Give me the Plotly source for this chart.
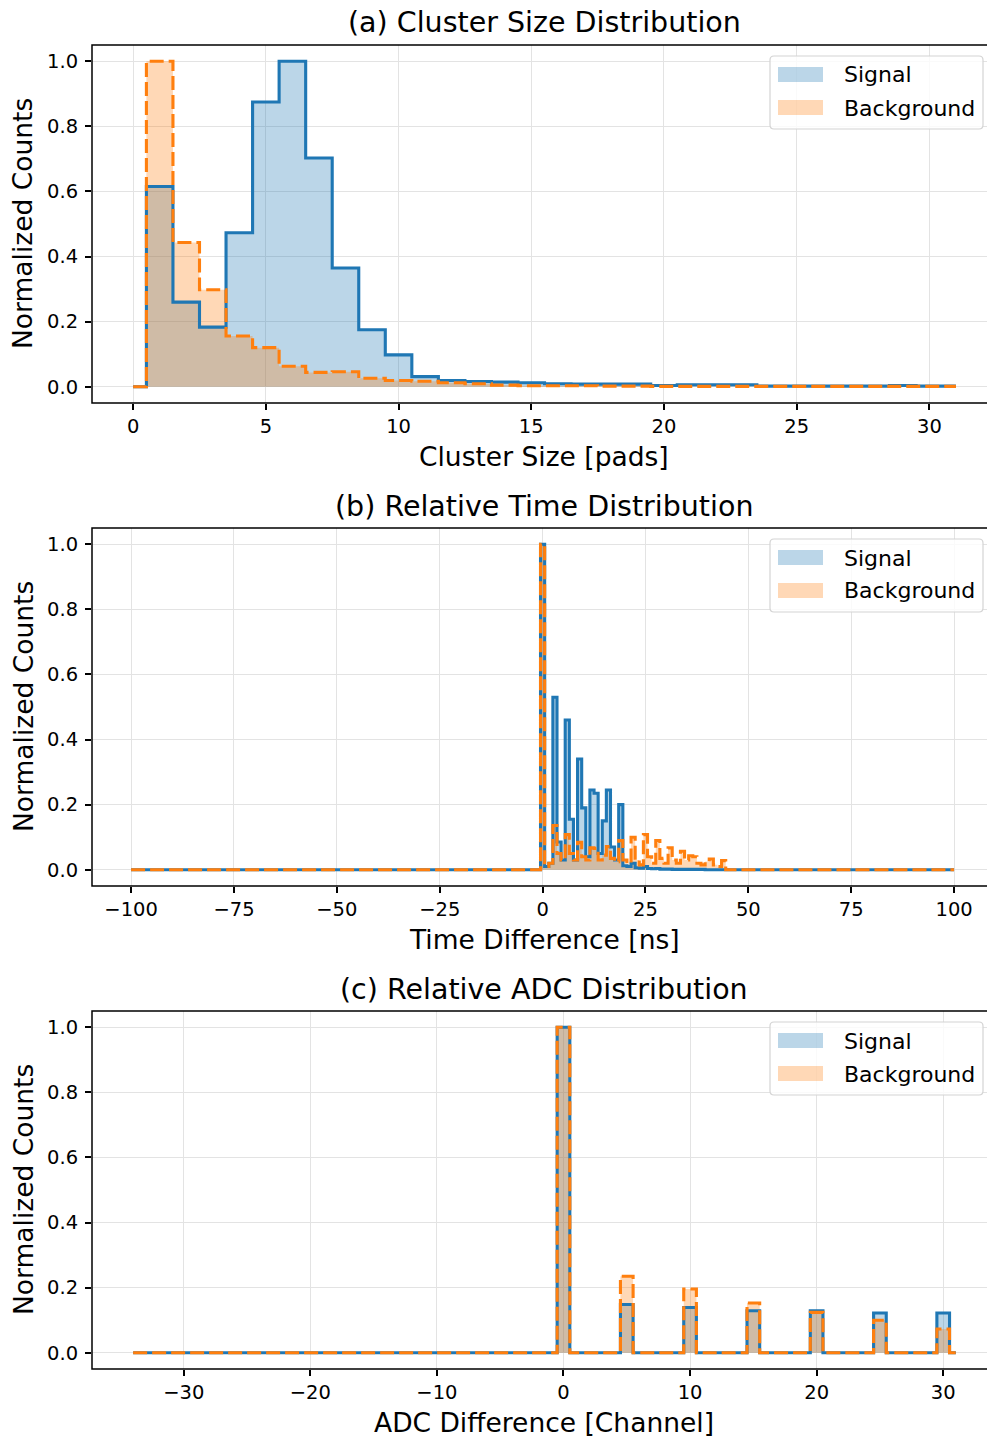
import plotly.graph_objects as go

# ---------------- data ----------------
# (a) cluster size
cluster_size = list(range(0, 32))
signal_cluster = [0.0, 0.615, 0.26, 0.183, 0.473, 0.875, 1.0, 0.703, 0.365, 0.175,
                  0.098, 0.031, 0.019, 0.016, 0.014, 0.012, 0.009, 0.008, 0.008, 0.008,
                  0.004, 0.006, 0.006, 0.006, 0.002, 0.002, 0.002, 0.002, 0.002, 0.004,
                  0.002, 0.002]
background_cluster = [0.0, 1.0, 0.443, 0.298, 0.156, 0.12, 0.063, 0.044, 0.046, 0.026,
                      0.019, 0.017, 0.012, 0.009, 0.005, 0.003, 0.003, 0.003, 0.002, 0.002,
                      0.001, 0.001, 0.001, 0.001, 0.001, 0.001, 0.001, 0.001, 0.001, 0.001,
                      0.001, 0.001]

# (b) relative time: bins -100 .. 100 ns (1 ns), non-zero part starts at 0 ns
time_ns = list(range(-100, 101))
signal_time_from0 = [1.0, 0.01, 0.02, 0.53, 0.085, 0.03, 0.46, 0.155, 0.03, 0.34,
                     0.19, 0.04, 0.245, 0.235, 0.05, 0.15, 0.245, 0.07, 0.03, 0.20,
                     0.012, 0.01, 0.02, 0.006, 0.005, 0.01, 0.004, 0.003, 0.004, 0.002,
                     0.002, 0.002, 0.001, 0.001, 0.001, 0.001, 0.001, 0.001, 0.001, 0.001]
background_time_from0 = [1.0, 0.01, 0.02, 0.136, 0.05, 0.03, 0.108, 0.05, 0.03, 0.084,
                         0.04, 0.03, 0.067, 0.065, 0.03, 0.045, 0.071, 0.035, 0.025, 0.09,
                         0.03, 0.02, 0.10, 0.03, 0.015, 0.108, 0.04, 0.02, 0.09, 0.035,
                         0.02, 0.067, 0.03, 0.02, 0.057, 0.03, 0.043, 0.04, 0.02, 0.015,
                         0.025, 0.033, 0.015, 0.01, 0.028]

# (c) relative ADC: channels -34 .. 31, peaks every 5 channels
adc_channel = list(range(-34, 32))
adc_peak_channels = [0, 5, 10, 15, 20, 25, 30]
signal_adc_peaks = [1.0, 0.148, 0.139, 0.129, 0.129, 0.122, 0.122]
background_adc_peaks = [1.0, 0.235, 0.196, 0.153, 0.124, 0.10, 0.073]

xtick_a = [0, 5, 10, 15, 20, 25, 30]
xtick_b = [-100, -75, -50, -25, 0, 25, 50, 75, 100]
xtick_c = [-30, -20, -10, 0, 10, 20, 30]
ytick = [0.0, 0.2, 0.4, 0.6, 0.8, 1.0]

titles = ["(a) Cluster Size Distribution", "(b) Relative Time Distribution",
          "(c) Relative ADC Distribution"]
xlabels = ["Cluster Size [pads]", "Time Difference [ns]", "ADC Difference [Channel]"]
ylabel = "Normalized Counts"


def full_time(vals):
    out = [0.0] * len(time_ns)
    start = time_ns.index(0)
    for i, v in enumerate(vals):
        out[start + i] = v
    return out


def full_adc(peaks):
    out = [0.0] * len(adc_channel)
    for c, v in zip(adc_peak_channels, peaks):
        out[adc_channel.index(c)] = v
    return out


signal_time = full_time(signal_time_from0)
background_time = full_time(background_time_from0)
signal_adc = full_adc(signal_adc_peaks)
background_adc = full_adc(background_adc_peaks)

# ---------------- layout geometry (page pixel coords; body margin removed) ----
W, H = 987, 1438
ML = 92
MT = 45
MB = H - 1369
MR = 0
PW = W - ML - MR
PH = H - MT - MB
PANEL_TOPS = [45, 528, 1011]
PANEL_H = 358


def pxx(x):
    return (x - ML) / PW


def pxy(y):
    return (H - MB - y) / PH


FONT = "DejaVu Sans"
BLUE = "#1f77b4"
ORANGE = "#ff7f0e"
BLUE_FILL = "rgba(31,119,180,0.3)"
ORANGE_FILL = "rgba(255,127,14,0.3)"

fig = go.Figure()

panels = [
    (cluster_size, signal_cluster, background_cluster, xtick_a, [-1.55, 32.17]),
    (time_ns, signal_time, background_time, xtick_b, [-109.5, 108.0]),
    (adc_channel, signal_adc, background_adc, xtick_c, [-37.25, 33.46]),
]

shapes = []
annotations = []

for i, (xs, sig, bkg, xt, xr) in enumerate(panels):
    s = "" if i == 0 else str(i + 1)
    xa, ya = "x" + s, "y" + s
    fig.add_trace(go.Scatter(x=xs, y=sig, mode="lines", line=dict(width=0, shape="hvh"),
                             fill="tozeroy", fillcolor=BLUE_FILL, showlegend=False,
                             hoverinfo="skip", xaxis=xa, yaxis=ya))
    fig.add_trace(go.Scatter(x=xs, y=bkg, mode="lines", line=dict(width=0, shape="hvh"),
                             fill="tozeroy", fillcolor=ORANGE_FILL, showlegend=False,
                             hoverinfo="skip", xaxis=xa, yaxis=ya))
    fig.add_trace(go.Scatter(x=xs, y=sig, mode="lines", name="Signal",
                             line=dict(width=3.1, shape="hvh", color=BLUE),
                             showlegend=False, xaxis=xa, yaxis=ya))
    fig.add_trace(go.Scatter(x=xs, y=bkg, mode="lines", name="Background",
                             line=dict(width=3.1, shape="hvh", color=ORANGE, dash="14px,5px"),
                             showlegend=False, xaxis=xa, yaxis=ya))

    top = PANEL_TOPS[i]
    bottom = top + PANEL_H
    dom = [pxy(bottom), pxy(top)]
    axis_common = dict(showgrid=True, gridcolor="#e3e3e3", gridwidth=1.2, zeroline=False,
                       showline=False, ticks="outside", ticklen=6, tickwidth=1.5,
                       tickcolor="black", tickfont=dict(family=FONT, size=19.5, color="black"))
    fig.update_layout(**{
        "xaxis" + s: dict(domain=[0, 1], range=xr, tickmode="array", tickvals=xt,
                          anchor=ya, **axis_common),
        "yaxis" + s: dict(domain=dom, range=[-0.05, 1.05], tickmode="array", tickvals=ytick,
                          tickformat=".1f", anchor=xa, ticklabelstandoff=3, **axis_common),
    })
    # frame; its right side lies beyond the canvas, as in the reference
    shapes.append(dict(type="rect", xref=xa + " domain", yref=ya + " domain",
                       x0=0, x1=1.03, y0=0, y1=1, line=dict(color="black", width=1.5),
                       layer="above"))
    annotations.append(dict(text=titles[i], xref="paper", yref="paper",
                            x=pxx(544), y=pxy(top - 22), xanchor="center", yanchor="middle",
                            showarrow=False, borderpad=0, borderwidth=0,
                            font=dict(family=FONT, size=28.5, color="black")))
    annotations.append(dict(text=xlabels[i], xref="paper", yref="paper",
                            x=pxx(544), y=pxy(bottom + 53), xanchor="center", yanchor="middle",
                            showarrow=False, borderpad=0, borderwidth=0,
                            font=dict(family=FONT, size=26.5, color="black")))
    annotations.append(dict(text=ylabel, xref="paper", yref="paper", textangle=-90,
                            x=pxx(23), y=pxy(top + PANEL_H / 2), xanchor="center",
                            yanchor="middle", showarrow=False, borderpad=0, borderwidth=0,
                            font=dict(family=FONT, size=26.5, color="black")))
    # legend drawn manually (filled patches only, like the reference)
    bx0, bx1, by0, by1 = 770, 983, top + 11, top + 84
    r = 4
    path = (f"M {pxx(bx0 + r)},{pxy(by0)} L {pxx(bx1 - r)},{pxy(by0)} "
            f"Q {pxx(bx1)},{pxy(by0)} {pxx(bx1)},{pxy(by0 + r)} "
            f"L {pxx(bx1)},{pxy(by1 - r)} Q {pxx(bx1)},{pxy(by1)} {pxx(bx1 - r)},{pxy(by1)} "
            f"L {pxx(bx0 + r)},{pxy(by1)} Q {pxx(bx0)},{pxy(by1)} {pxx(bx0)},{pxy(by1 - r)} "
            f"L {pxx(bx0)},{pxy(by0 + r)} Q {pxx(bx0)},{pxy(by0)} {pxx(bx0 + r)},{pxy(by0)} Z")
    shapes.append(dict(type="path", xref="paper", yref="paper", path=path,
                       fillcolor="rgba(255,255,255,0.8)", line=dict(color="#d4d4d4", width=1.2),
                       layer="above"))
    shapes.append(dict(type="rect", xref="paper", yref="paper",
                       x0=pxx(778), x1=pxx(823), y0=pxy(top + 37), y1=pxy(top + 22),
                       fillcolor=BLUE_FILL, line=dict(width=0), layer="above"))
    shapes.append(dict(type="rect", xref="paper", yref="paper",
                       x0=pxx(778), x1=pxx(823), y0=pxy(top + 70), y1=pxy(top + 55),
                       fillcolor=ORANGE_FILL, line=dict(width=0), layer="above"))
    annotations.append(dict(text="Signal", xref="paper", yref="paper", x=pxx(842),
                            y=pxy(top + 30), xanchor="left", yanchor="middle", showarrow=False,
                            font=dict(family=FONT, size=22, color="black")))
    annotations.append(dict(text="Background", xref="paper", yref="paper", x=pxx(842),
                            y=pxy(top + 63), xanchor="left", yanchor="middle", showarrow=False,
                            font=dict(family=FONT, size=22, color="black")))

fig.update_layout(width=W, height=H, margin=dict(l=ML, r=MR, t=MT, b=MB),
                  plot_bgcolor="white", paper_bgcolor="white", showlegend=False,
                  shapes=shapes, annotations=annotations,
                  font=dict(family=FONT, color="black"))

fig.write_html("out.html", config={"displayModeBar": False},
               post_script="document.body.style.margin='0px';")
